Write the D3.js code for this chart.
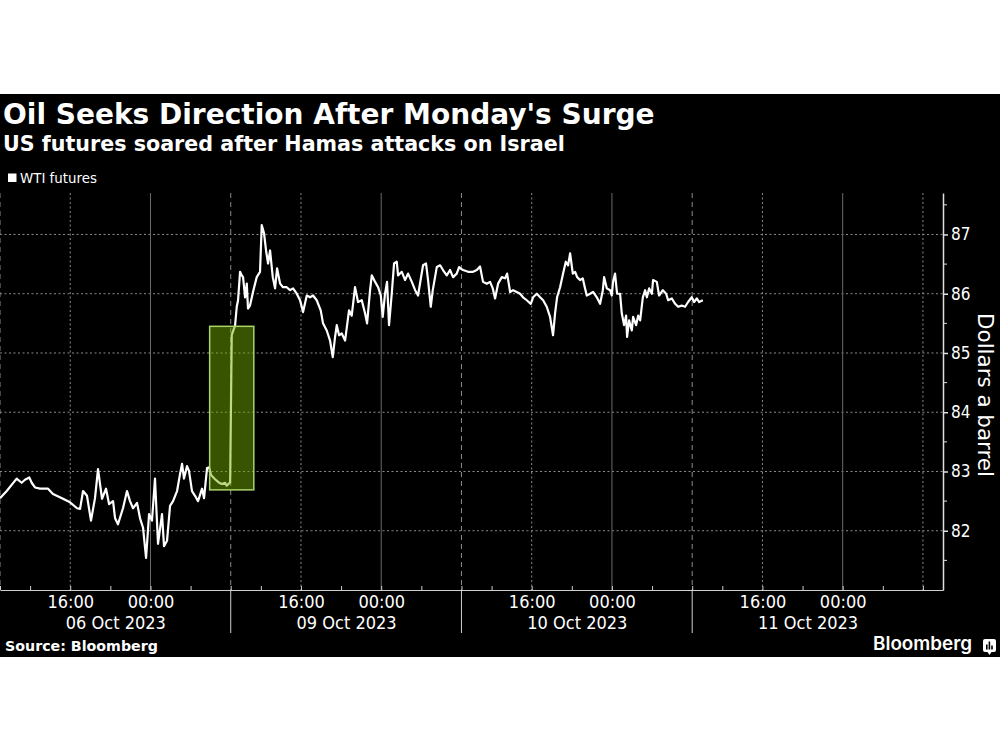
<!DOCTYPE html>
<html>
<head>
<meta charset="utf-8">
<script src="https://cdn.jsdelivr.net/npm/d3@7"></script>
<style>
  body { margin: 0; background: #fff; }
  svg { display: block; }
</style>
</head>
<body>
<svg id="chart" width="1000" height="750"></svg>
<script>
// trading sessions, each runs 09:00 to 08:00 next day (23 hours)
const sessions = ["06 Oct 2023", "09 Oct 2023", "10 Oct 2023", "11 Oct 2023"]
const sessionHours = 23
const tickHours = [3, 7, 11, 15, 19]
const labelHours = [7, 15]
const timeLabels = ["16:00", "00:00"]
const yTicks = [82, 83, 84, 85, 86, 87]
const yMinor = [81.5, 82.5, 83.5, 84.5, 85.5, 86.5, 87.5]

// WTI futures: [hours since session open, dollars a barrel]
const wti06 = [[0,82.55],[0.67,82.67],[1.66,82.88],[2.16,82.81],[2.49,82.86],[2.92,82.90],[3.16,82.81],[3.49,82.73],
  [3.99,82.71],[4.79,82.71],[5.28,82.62],[6.18,82.55],[6.98,82.48],[7.68,82.38],[7.98,82.37],[8.28,82.67],[8.67,82.59],
  [9.07,82.17],[9.47,82.55],[9.77,83.04],[10.17,82.54],[10.57,82.71],[10.87,82.45],[11.27,82.50],[11.47,82.21],
  [11.76,82.11],[12.26,82.38],[12.66,82.67],[12.96,82.50],[13.26,82.38],[13.66,82.47],[13.96,82.21],[14.26,82.05],
  [14.56,81.54],[14.86,82.28],[15.15,82.17],[15.45,82.88],[15.75,81.78],[16.15,82.28],[16.35,81.74],[16.65,81.83],
  [16.95,82.42],[17.25,82.50],[17.65,82.67],[17.95,82.96],[18.15,83.13],[18.34,82.88],[18.64,83.09],[18.84,83.01],
  [19.14,82.67],[19.44,82.59],[19.74,82.50],[20.14,82.71],[20.34,82.55],[20.64,83.06],[20.84,83.07],[21.04,82.94],
  [21.44,82.87],[21.77,82.82],[22.1,82.79],[22.44,82.81],[22.6,82.76],[22.94,82.82]]
const wti09 = [[0.10,85.30],[0.26,85.38],[0.43,85.46],[0.60,85.78],[0.73,85.89],[0.93,86.37],[1.10,86.31],[1.23,86.28],
  [1.43,85.94],[1.60,86.17],[1.72,85.75],[1.92,85.80],[2.22,86.03],[2.59,86.28],[2.92,86.37],[3.09,87.16],[3.32,87.02],
  [3.52,86.73],[3.72,86.51],[3.92,86.73],[4.19,86.28],[4.42,86.09],[4.62,86.43],[4.92,86.17],[5.21,86.11],[5.58,86.11],
  [5.91,86.06],[6.21,86.09],[6.58,86.00],[6.91,85.89],[7.21,85.69],[7.58,85.97],[7.91,85.94],[8.21,85.97],[8.57,85.89],
  [8.97,85.72],[9.20,85.50],[9.57,85.38],[9.90,85.21],[10.17,84.93],[10.40,85.27],[10.57,85.47],[10.80,85.30],
  [11.07,85.33],[11.40,85.21],[11.79,85.72],[12.06,85.63],[12.39,86.11],[12.69,85.86],[13.06,85.89],[13.39,85.67],
  [13.59,85.50],[13.89,86.06],[14.06,86.31],[14.39,86.20],[14.69,86.11],[14.96,85.97],[15.15,85.61],[15.38,86.00],
  [15.58,86.20],[15.78,85.47],[16.05,86.00],[16.28,86.51],[16.55,86.54],[16.68,86.31],[17.05,86.37],[17.38,86.23],
  [17.68,86.34],[18.05,86.20],[18.38,86.06],[18.67,85.97],[19.17,86.48],[19.47,86.51],[19.67,86.23],[19.94,85.78],
  [20.14,86.06],[20.54,86.45],[20.87,86.48],[21.16,86.40],[21.53,86.31],[21.86,86.40],[22.16,86.28],[22.53,86.34],
  [22.76,86.45],[22.96,86.42]]
const wti10 = [[0.16,86.40],[0.66,86.37],[1.16,86.37],[1.53,86.40],[1.85,86.46],[2.15,86.20],[2.52,86.17],[2.85,86.20],
  [3.12,86.09],[3.35,85.92],[3.65,86.17],[4.02,86.28],[4.35,86.26],[4.55,86.34],[4.85,86.03],[5.14,86.06],[5.51,86.03],
  [5.84,86.00],[6.14,85.94],[6.51,85.89],[6.91,85.83],[7.14,85.94],[7.51,86.00],[7.84,85.94],[8.14,85.89],[8.50,85.78],
  [8.83,85.61],[9.13,85.30],[9.33,85.67],[9.53,85.94],[9.83,86.11],[10.13,86.34],[10.40,86.54],[10.63,86.48],
  [10.83,86.68],[11.10,86.34],[11.33,86.37],[11.53,86.28],[11.82,86.23],[12.09,86.26],[12.32,86.09],[12.49,85.97],
  [12.82,86.00],[13.12,86.03],[13.49,85.94],[13.82,85.83],[14.09,86.06],[14.22,86.28],[14.49,86.09],[14.82,86.06],
  [14.98,85.97],[15.11,86.20],[15.31,86.34],[15.51,86.00],[15.81,86.00],[15.98,85.67],[16.21,85.47],[16.41,85.63],
  [16.51,85.27],[16.71,85.55],[16.98,85.38],[17.11,85.61],[17.41,85.47],[17.61,85.63],[17.81,85.55],[18.08,85.94],
  [18.31,86.06],[18.48,85.94],[18.71,86.09],[18.98,86.00],[19.10,86.23],[19.47,86.20],[19.70,85.97],[20.07,86.06],
  [20.40,86.00],[20.60,85.89],[20.97,85.92],[21.30,85.83],[21.60,85.78],[21.96,85.80],[22.29,85.78],[22.59,85.86],
  [22.96,85.94]]
const wti11 = [[0.19,85.86],[0.46,85.92],[0.69,85.86],[1.06,85.89]]

// shaded window around Monday's opening gap: [session, hours]
const highlightFrom = [0, 20.9]
const highlightTo = [1, 2.3]
const highlightLow = 82.69
const highlightHigh = 85.45

const svg = d3.select("#chart")
const plotRight = 943, plotTop = 193, plotBottom = 590
const condensed = "DejaVu Sans Condensed, DejaVu Sans, sans-serif"

const at = (s, h) => s * sessionHours + h

const x = d3.scaleLinear().domain([0, 94]).range([0, plotRight])
const y = d3.scaleLinear().domain([81, 87.7]).range([plotBottom, plotTop])

function fitWidth(sel, width) {
  const fs = parseFloat(sel.attr("font-size"))
  sel.attr("font-size", fs * width / sel.node().getComputedTextLength())
}

svg.append("rect").attr("x", 0).attr("y", 94).attr("width", 1000).attr("height", 563).attr("fill", "#000")

// titles
const title = svg.append("text").attr("x", 3).attr("y", 124).attr("fill", "#fff")
  .attr("font-family", "DejaVu Sans, sans-serif").attr("font-weight", "bold").attr("font-size", 28)
  .text("Oil Seeks Direction After Monday's Surge")
fitWidth(title, 652)
const subtitle = svg.append("text").attr("x", 3).attr("y", 151).attr("fill", "#fff")
  .attr("font-family", "DejaVu Sans, sans-serif").attr("font-weight", "bold").attr("font-size", 20)
  .text("US futures soared after Hamas attacks on Israel")
fitWidth(subtitle, 562)

// legend
svg.append("rect").attr("x", 8).attr("y", 173.5).attr("width", 8.5).attr("height", 8.5).attr("fill", "#fff")
const legend = svg.append("text").attr("x", 20).attr("y", 183).attr("fill", "#fff")
  .attr("font-family", condensed).attr("font-size", 14).text("WTI futures")
fitWidth(legend, 77)

// grid
const grid = svg.append("g")
grid.selectAll(".hgrid").data(yTicks).join("line")
  .attr("x1", 0).attr("x2", plotRight).attr("y1", d => y(d)).attr("y2", d => y(d))
  .attr("stroke", "#8a8a8a").attr("stroke-width", 1).attr("stroke-dasharray", "2,2.5")

const vgrid = d3.range(sessions.length).flatMap(s => [
  { t: at(s, 0), dash: "5,4", color: "#8a8a8a" },
  { t: at(s, 7), dash: "2,2.5", color: "#8a8a8a" },
  { t: at(s, 15), dash: null, color: "#6a6a6a" }
]).concat([{ t: at(sessions.length, 0), dash: "2,2.5", color: "#8a8a8a" }])
grid.selectAll(".vgrid").data(vgrid).join("line")
  .attr("x1", d => x(d.t)).attr("x2", d => x(d.t)).attr("y1", plotTop).attr("y2", plotBottom)
  .attr("stroke", d => d.color).attr("stroke-width", 1).attr("stroke-dasharray", d => d.dash)

// line
const series = [wti06, wti09, wti10, wti11].flatMap((pts, s) => pts.map(([h, v]) => ({ t: at(s, h), v: v })))
const line = d3.line().x(d => x(d.t)).y(d => y(d.v))
svg.append("path").datum(series).attr("d", line)
  .attr("fill", "none").attr("stroke", "#fff").attr("stroke-width", 2.2).attr("stroke-linejoin", "round")

// highlight box
const hx0 = x(at(...highlightFrom)), hx1 = x(at(...highlightTo))
svg.append("rect")
  .attr("x", hx0).attr("y", y(highlightHigh))
  .attr("width", hx1 - hx0).attr("height", y(highlightLow) - y(highlightHigh))
  .attr("fill", "rgb(120,175,0)").attr("fill-opacity", 0.48)
  .attr("stroke", "#a8d46a").attr("stroke-width", 1.5)

// x axis: 4-hour ticks
const allTicks = d3.range(sessions.length).flatMap(s => [at(s, 0), ...tickHours.map(h => at(s, h))])
  .concat([at(sessions.length, 0)])
svg.append("g").attr("transform", `translate(0,${plotBottom})`)
  .call(d3.axisBottom(x).tickValues(allTicks).tickSizeInner(-4).tickSizeOuter(0).tickFormat(""))
  .call(g => g.selectAll("line, path").attr("stroke", "#d0d0d0"))

const labelTicks = d3.range(sessions.length).flatMap(s => labelHours.map(h => at(s, h)))
svg.append("g").attr("transform", `translate(0,${plotBottom})`)
  .call(d3.axisBottom(x).tickValues(labelTicks).tickSize(0).tickPadding(5)
    .tickFormat(t => timeLabels[labelHours.indexOf(t % sessionHours)]))
  .call(g => g.select(".domain").remove())
  .call(g => g.selectAll("text").attr("fill", "#fff").attr("font-family", condensed).attr("font-size", 18))

svg.append("g").attr("transform", `translate(0,${plotBottom})`)
  .call(d3.axisBottom(x).tickValues(sessions.map((d, s) => at(s, sessionHours / 2))).tickSize(0).tickPadding(26)
    .tickFormat((t, i) => sessions[i]))
  .call(g => g.select(".domain").remove())
  .call(g => g.selectAll("text").attr("fill", "#fff").attr("font-family", condensed).attr("font-size", 18))

// session separators below the axis
svg.append("g").selectAll("line").data(d3.range(1, sessions.length)).join("line")
  .attr("x1", s => x(at(s, 0))).attr("x2", s => x(at(s, 0)))
  .attr("y1", plotBottom).attr("y2", plotBottom + 43)
  .attr("stroke", "#d0d0d0").attr("stroke-width", 1)

// y axis on the right
svg.append("g").attr("transform", `translate(${plotRight},0)`)
  .call(d3.axisRight(y).tickValues(yTicks).tickSize(5).tickSizeOuter(0).tickPadding(3).tickFormat(d3.format("d")))
  .call(g => g.selectAll("line, path").attr("stroke", "#e0e0e0").attr("stroke-width", 1.5))
  .call(g => g.selectAll("text").attr("fill", "#fff").attr("font-family", condensed).attr("font-size", 17))
svg.append("g").attr("transform", `translate(${plotRight},0)`)
  .selectAll("line").data(yMinor).join("line")
  .attr("x1", 0).attr("x2", 4).attr("y1", d => y(d)).attr("y2", d => y(d))
  .attr("stroke", "#e0e0e0").attr("stroke-width", 1)

const yLabel = svg.append("text").attr("transform", "translate(978,395) rotate(90)")
  .attr("text-anchor", "middle").attr("fill", "#fff")
  .attr("font-family", "DejaVu Sans, sans-serif").attr("font-size", 20).text("Dollars a barrel")
fitWidth(yLabel, 164)

// footer
const source = svg.append("text").attr("x", 5).attr("y", 651).attr("fill", "#fff")
  .attr("font-family", "DejaVu Sans, sans-serif").attr("font-weight", "bold").attr("font-size", 13)
  .text("Source: Bloomberg")
fitWidth(source, 153)
const brand = svg.append("text").attr("x", 972).attr("y", 650).attr("text-anchor", "end").attr("fill", "#fff")
  .attr("font-family", "Inter, Liberation Sans, sans-serif").attr("font-weight", 600).attr("font-size", 20)
  .text("Bloomberg")
fitWidth(brand, 99)
const logo = svg.append("g").attr("transform", "translate(983,639)")
logo.append("rect").attr("width", 13).attr("height", 13).attr("rx", 2).attr("fill", "#fff")
logo.append("path").attr("d", "M4.5,13 L6.5,16 L8.5,13 Z").attr("fill", "#fff")
logo.selectAll(".bar").data([5, 8, 4]).join("rect")
  .attr("x", (d, i) => 3 + i * 2.6).attr("y", d => 10.5 - d).attr("width", 1.6).attr("height", d => d)
  .attr("fill", "#000")
</script>
</body>
</html>
